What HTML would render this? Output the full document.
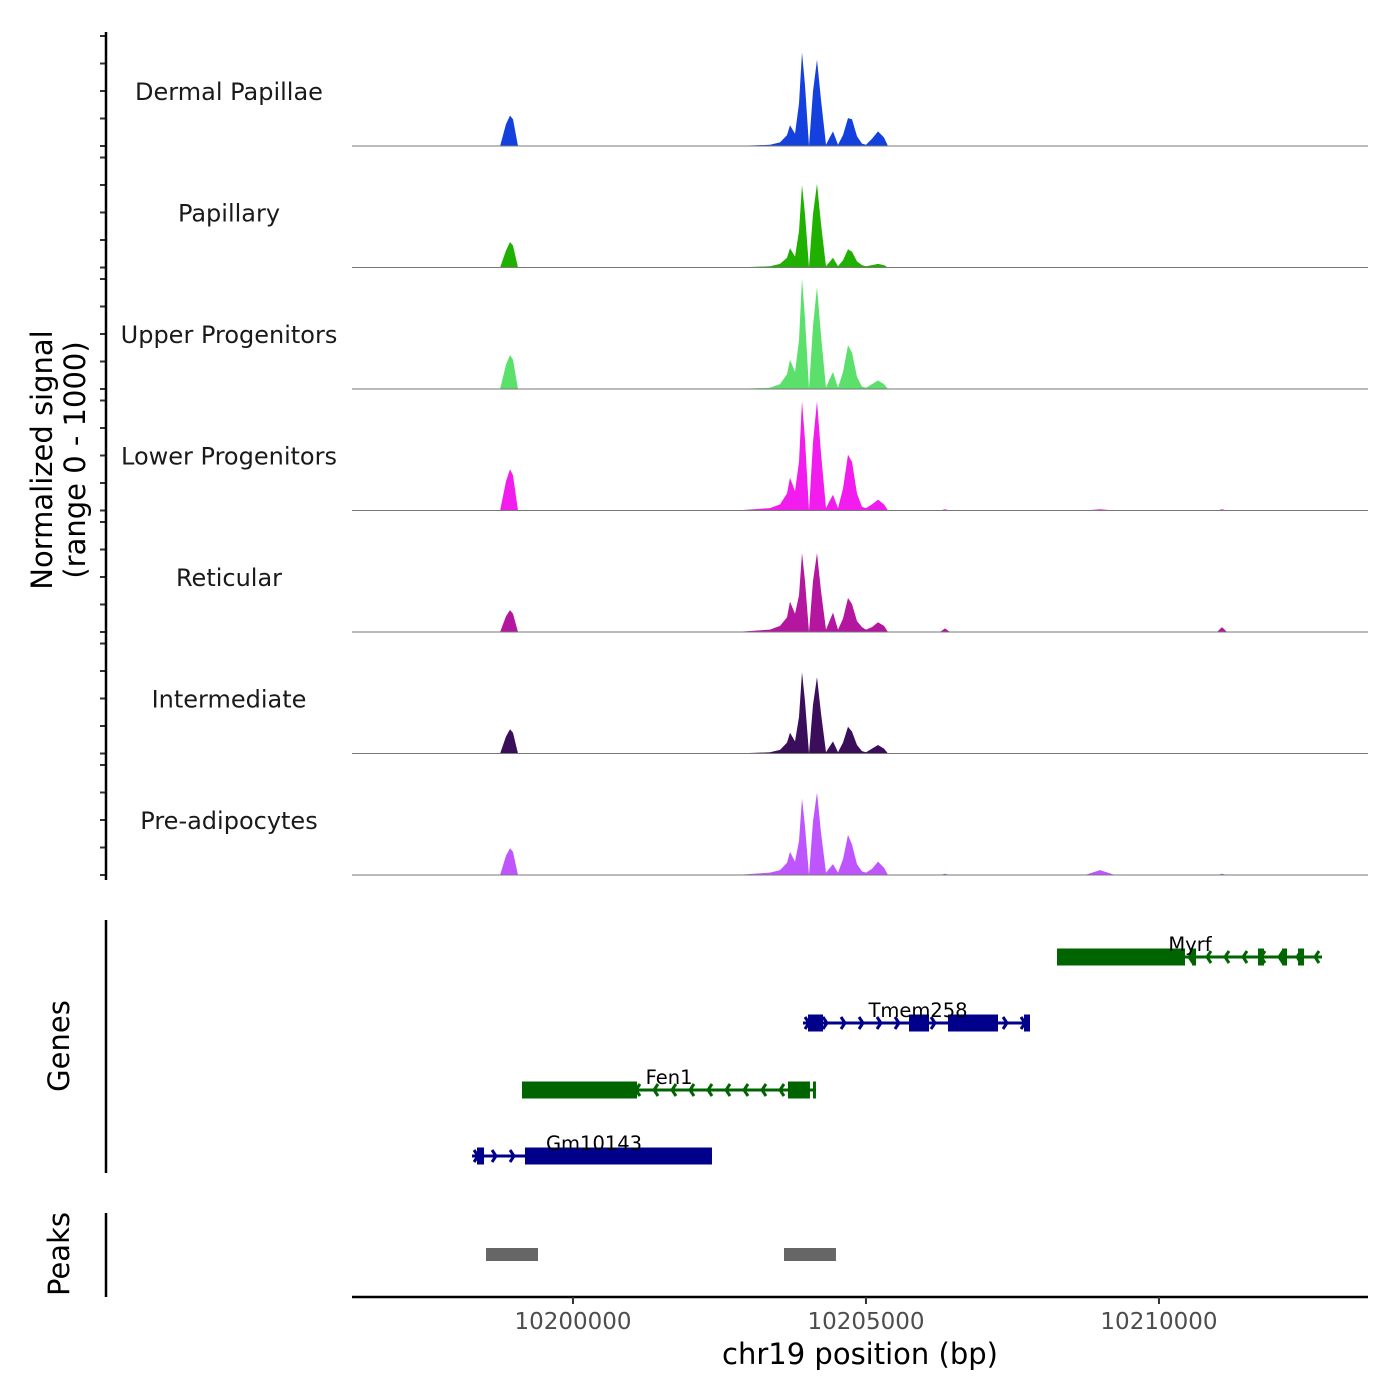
<!DOCTYPE html>
<html><head><meta charset="utf-8"><style>
body{margin:0;background:#fff}
svg{display:block;font-family:"DejaVu Sans","Liberation Sans",sans-serif}
</style></head><body>
<svg id="chart" width="1400" height="1400" viewBox="0 0 1400 1400">
<rect width="1400" height="1400" fill="#fff"/>
<g id="tracks"></g>
<g id="genes"></g>
<g id="peaks"></g>
<g id="axes">
<line x1="106" y1="32" x2="106" y2="880" stroke="#000" stroke-width="2.5"/>
<line x1="106" y1="920" x2="106" y2="1173" stroke="#000" stroke-width="2.5"/>
<line x1="106" y1="1213" x2="106" y2="1297" stroke="#000" stroke-width="2.5"/>
<line x1="352" y1="1297" x2="1368" y2="1297" stroke="#000" stroke-width="2.5"/>
<text transform="translate(52,460) rotate(-90)" text-anchor="middle" font-size="29" fill="#000">Normalized signal</text>
<text transform="translate(85,460) rotate(-90)" text-anchor="middle" font-size="29" fill="#000">(range 0 - 1000)</text>
<text transform="translate(69,1046) rotate(-90)" text-anchor="middle" font-size="29" fill="#000">Genes</text>
<text transform="translate(69,1254) rotate(-90)" text-anchor="middle" font-size="29" fill="#000">Peaks</text>
<text x="860" y="1364" text-anchor="middle" font-size="29" fill="#000">chr19 position (bp)</text>
</g>
<g id="xticks"></g>
</svg>
<script>
const NS='http://www.w3.org/2000/svg';
const trackNames=['Dermal Papillae','Papillary','Upper Progenitors','Lower Progenitors','Reticular','Intermediate','Pre-adipocytes'];
const trackColors=['#1440dd','#1fb000','#5be06b','#f21cef','#b5169f','#3b0e5c','#bf55ff'];
const positions=[10196229,10198757,10198857,10198925,10198976,10199062,10202765,10203362,10203532,10203652,10203703,10203788,10203857,10203908,10203959,10204027,10204096,10204164,10204232,10204317,10204369,10204437,10204522,10204608,10204693,10204761,10204846,10204932,10205000,10205102,10205205,10205307,10205375,10206263,10206348,10206433,10208737,10208993,10209249,10210990,10211076,10211161,10213567];
const dermal=[0,0,18,25,22,0,0,1,3,9,17,10,35,77,50,0,45,71,38,1,6,12,1,9,23,22,8,2,1,6,12,7,0,0,0,0,0,0,0,0,0,0,0];
const papillary=[0,0,14,21,18,0,0,1,3,8,16,9,30,68,44,0,44,69,36,1,4,8,1,6,15,13,5,2,1,2,3,2,0,0,0,0,0,0,0,0,0,0,0];
const upper=[0,0,20,28,24,0,0,1,4,12,24,14,40,91,58,0,52,84,44,1,7,14,1,14,36,30,10,2,1,4,7,4,0,0,0,0,0,0,0,0,0,0,0];
const lower=[0,0,24,34,29,0,0,2,5,14,27,16,40,90,58,0,56,90,47,2,7,13,2,18,46,40,14,3,2,5,9,5,0,0,1,0,0,1,0,0,1,0,0];
const reticular=[0,0,13,18,15,0,0,2,5,12,25,15,30,65,42,0,42,65,34,2,8,16,2,11,28,23,9,4,2,4,8,5,0,0,3,0,0,0,0,0,4,0,0];
const intermediate=[0,0,14,20,17,0,0,1,3,9,17,10,30,67,43,0,40,63,33,1,5,10,1,9,22,18,7,2,1,4,7,4,0,0,0,0,0,0,0,0,0,0,0];
const preadip=[0,0,16,22,19,0,0,2,4,10,19,11,28,63,40,0,44,68,35,2,5,9,2,13,33,25,9,3,2,5,11,6,0,0,1,0,0,4,0,0,1,0,0];
const trackValues=[dermal,papillary,upper,lower,reticular,intermediate,preadip];
const xTicks=[10200000,10205000,10210000];
const geneNames=['Myrf','Tmem258','Fen1','Gm10143'];
const geneStrands=[-1,1,-1,1];
const geneStarts=[10208260,10203925,10199130,10198277];
const geneEnds=[10212782,10207799,10204146,10202372];
const geneExons=[[[10208260,10210444],[10210564,10210632],[10211690,10211792],[10212100,10212185],[10212373,10212475]],[[10204011,10204267],[10205734,10206076],[10206400,10207253],[10207697,10207799]],[[10199130,10201093],[10203669,10204044],[10204095,10204146]],[[10198362,10198482],[10199181,10202372]]];
const geneLabelPos=[10210529,10205888,10201639,10200359];
const peakStarts=[10198516,10203601];
const peakEnds=[10199403,10204488];

const X0=10196229,X1=10213567,PX0=352,PX1=1368;
function xs(bp){return PX0+(bp-X0)/(X1-X0)*(PX1-PX0);}
const TOP=24.5,TH=121.5;
function ys(i,v){return TOP+TH*(i+1)-v/100*TH;}
function mk(tag,attrs,parent){const e=document.createElementNS(NS,tag);for(const k in attrs)e.setAttribute(k,attrs[k]);parent.appendChild(e);return e;}

const tracks=document.getElementById('tracks');
trackNames.forEach((nm,i)=>{
  const g=mk('g',{},tracks);
  
  
  const vals=trackValues[i];
  let d='M'+xs(positions[0])+','+ys(i,0);
  positions.forEach((p,j)=>{d+=' L'+xs(p).toFixed(1)+','+ys(i,vals[j]).toFixed(1);});
  d+=' L'+xs(positions[positions.length-1])+','+ys(i,0)+' Z';
  const a=mk('path',{d:d,fill:trackColors[i]},g);
  
  
  const b=mk('line',{x1:PX0,x2:PX1,y1:ys(i,0),y2:ys(i,0),stroke:'#777','stroke-width':1},g);
  
  
  const t=mk('text',{x:229,y:ys(i,0)-46,'text-anchor':'middle','font-size':24,fill:'#1a1a1a'},g);
  t.textContent=nm;
  
  
  for(let k=0;k<5;k++){
    const ty=ys(i,0)-k*27.5;
    const tk=mk('line',{x1:100,x2:106,y1:ty,y2:ty,stroke:'#333','stroke-width':2},g);
    
    
  }
});

const genesG=document.getElementById('genes');
const geneY=[957,1023,1090,1156];
const gcol={'-1':'#006400','1':'#00008b'};
geneNames.forEach((nm,i)=>{
  const g=mk('g',{},genesG);
  
  
  const c=gcol[geneStrands[i]],y=geneY[i];
  const x1=xs(geneStarts[i]),x2=xs(geneEnds[i]);
  mk('line',{x1:x1,x2:x2,y1:y,y2:y,stroke:c,'stroke-width':3},g);
  const step=18;
  for(let x=x1+6;x<x2-4;x+=step){
    const s=geneStrands[i];
    const ar=mk('polyline',{points:(x-4*s)+','+(y-6)+' '+x+','+y+' '+(x-4*s)+','+(y+6),fill:'none',stroke:c,'stroke-width':3},g);
    
    
  }
  geneExons[i].forEach(ex=>{
    const r=mk('rect',{x:xs(ex[0]),y:y-8.5,width:Math.max(3,xs(ex[1])-xs(ex[0])),height:17,fill:c},g);
    
    
  });
  const t=mk('text',{x:xs(geneLabelPos[i]),y:y-6,'text-anchor':'middle','font-size':19.5,fill:'#000'},g);
  t.textContent=nm;
  
  
});

const peaksG=document.getElementById('peaks');
peakStarts.forEach((s,i)=>{
  const r=mk('rect',{x:xs(s),y:1248,width:xs(peakEnds[i])-xs(s),height:13,fill:'#666'},peaksG);
  
  
});

const xt=document.getElementById('xticks');
xTicks.forEach(v=>{
  const x=xs(v);
  const l=mk('line',{x1:x,x2:x,y1:1297,y2:1304,stroke:'#333','stroke-width':2},xt);
  
  
  const t=mk('text',{x:x,y:1329,'text-anchor':'middle','font-size':23,fill:'#4d4d4d'},xt);
  t.textContent=v;
  
  
});
</script>
</body></html>
